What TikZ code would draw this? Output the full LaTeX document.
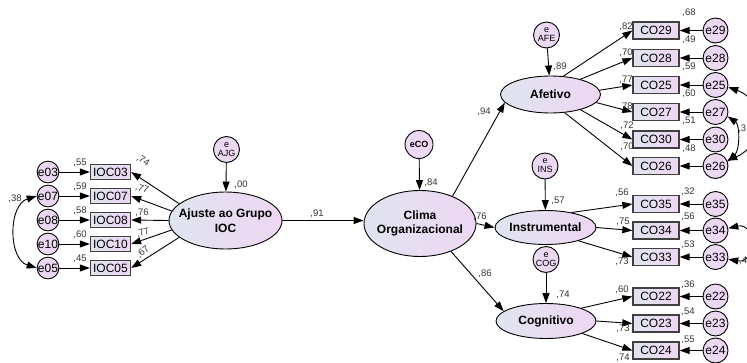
\documentclass[tikz,border=0pt]{standalone}
\usepackage{fontspec}
\setmainfont{Liberation Sans}
\usetikzlibrary{shapes.geometric, arrows.meta, positioning}

\definecolor{semleft}{RGB}{224,229,240}
\definecolor{semright}{RGB}{238,214,243}

\tikzset{
	latent/.style={ellipse, draw, line width=0.9pt, left color=semleft, right color=semright, inner sep=0pt},
	lattext/.style={align=center, font=\fontsize{12}{14}\selectfont\bfseries},
	obsv/.style={rectangle, draw=black!75, line width=1.3pt, left color=semleft, right color=semright, minimum width=46pt, minimum height=17pt, inner sep=0pt, font=\fontsize{12}{12}\selectfont},
	iocbox/.style={obsv, minimum width=40pt, minimum height=15pt},
	errc/.style={circle, draw, line width=0.9pt, left color=semleft!30!semright, right color=semright, minimum size=25pt, inner sep=0pt, font=\fontsize{12}{12}\selectfont},
	lerr/.style={errc, minimum size=21pt},
	distc/.style={errc, minimum size=26pt, align=center, font=\fontsize{9}{9}\selectfont},
	coef/.style={inner sep=0pt, text=black!80, font=\fontsize{9.5}{10}\selectfont},
	reg/.style={-{Triangle[length=10pt,width=7pt]}, line width=0.9pt},
	cov/.style={{Triangle[length=10pt,width=7pt]}-{Triangle[length=10pt,width=7pt]}, line width=0.9pt},
}

\begin{document}
\begin{tikzpicture}[x=1pt, y=-1pt]
	\useasboundingbox (0,0) rectangle (747,362);

	% latent variables
	\node[latent, minimum width=113pt, minimum height=57pt, label={[lattext, font=\fontsize{12}{15}\selectfont\bfseries]center:Ajuste ao Grupo\\IOC}] (ajg) at (225.5,220.5) {};
	\node[latent, minimum width=112pt, minimum height=66pt, label={[lattext]center:Clima\\Organizacional}] (clima) at (420,223.5) {};
	\node[latent, minimum width=100pt, minimum height=37pt, label={[lattext]center:Afetivo}] (afe) at (550.5,94.5) {};
	\node[latent, minimum width=101pt, minimum height=34pt, label={[lattext]center:Instrumental}] (ins) at (545.5,227.5) {};
	\node[latent, minimum width=100pt, minimum height=35pt, label={[lattext]center:Cognitivo}] (cog) at (546,321) {};

	% disturbances
	\node[distc] (dajg) at (226.5,149.5) {e\\AJG};
	\node[distc, minimum size=28pt, font=\fontsize{9}{9}\selectfont\bfseries] (dco) at (419,144.5) {eCO};
	\node[distc] (dafe) at (546.5,35) {e\\AFE};
	\node[distc] (dins) at (545,166) {e\\INS};
	\node[distc] (dcog) at (546,259.5) {e\\COG};

	% indicators of Ajuste ao Grupo
	\node[iocbox] (ioc03) at (110.5,172) {IOC03};
	\node[iocbox] (ioc07) at (110.5,196) {IOC07};
	\node[iocbox] (ioc08) at (110.5,220) {IOC08};
	\node[iocbox] (ioc10) at (110.5,244) {IOC10};
	\node[iocbox] (ioc05) at (110.5,268) {IOC05};
	\node[lerr] (e03) at (48,172) {e03};
	\node[lerr] (e07) at (48,196) {e07};
	\node[lerr] (e08) at (48,220) {e08};
	\node[lerr] (e10) at (48,244) {e10};
	\node[lerr] (e05) at (48,268) {e05};

	% indicators of Afetivo
	\node[obsv] (co29) at (656,30.5) {CO29};
	\node[obsv] (co28) at (656,58) {CO28};
	\node[obsv] (co25) at (656,85) {CO25};
	\node[obsv] (co27) at (656,112) {CO27};
	\node[obsv] (co30) at (656,139.5) {CO30};
	\node[obsv] (co26) at (656,166) {CO26};
	\node[errc] (e29) at (715.5,30.5) {e29};
	\node[errc] (e28) at (715.5,58) {e28};
	\node[errc] (e25) at (715.5,85) {e25};
	\node[errc] (e27) at (715.5,112) {e27};
	\node[errc] (e30) at (715.5,139.5) {e30};
	\node[errc] (e26) at (715.5,166) {e26};

	% indicators of Instrumental
	\node[obsv] (co35) at (656,204) {CO35};
	\node[obsv] (co34) at (656,230.5) {CO34};
	\node[obsv] (co33) at (656,257) {CO33};
	\node[errc] (e35) at (715.5,204) {e35};
	\node[errc] (e34) at (715.5,230.5) {e34};
	\node[errc] (e33) at (715.5,257) {e33};

	% indicators of Cognitivo
	\node[obsv] (co22) at (656,296.5) {CO22};
	\node[obsv] (co23) at (656,323.5) {CO23};
	\node[obsv] (co24) at (656,350.5) {CO24};
	\node[errc] (e22) at (715.5,296.5) {e22};
	\node[errc] (e23) at (715.5,323.5) {e23};
	\node[errc] (e24) at (715.5,350.5) {e24};

	% paths
	\draw[reg] (dajg) -- (ajg);
	\draw[reg] (dco) -- (clima);
	\draw[reg] (dafe) -- (afe);
	\draw[reg] (dins) -- (ins);
	\draw[reg] (dcog) -- (cog);
	\draw[reg] (ajg.east) -- (ajg.east -| clima.west);
	\draw[reg] (clima.east) -- (ins.west);
	\draw[reg] (clima.40) -- (afe.190);
	\draw[reg] (clima.-42) -- (cog.167);

	\draw[reg] (ajg.160) -- (ioc03.east);
	\draw[reg] (ajg.170) -- (ioc07.east);
	\draw[reg] (ajg.180) -- (ioc08.east);
	\draw[reg] (ajg.190) -- (ioc10.east);
	\draw[reg] (ajg.200) -- (ioc05.east);
	\draw[reg] (e03) -- (ioc03);
	\draw[reg] (e07) -- (ioc07);
	\draw[reg] (e08) -- (ioc08);
	\draw[reg] (e10) -- (ioc10);
	\draw[reg] (e05) -- (ioc05);
	\draw[cov] (e07.west) .. controls (8,205) and (8,259) .. (e05.west);

	\draw[reg] (afe.55) -- (co29.west);
	\draw[reg] (afe.27) -- (co28.west);
	\draw[reg] (afe.5) -- (co25.west);
	\draw[reg] (afe.-10) -- (co27.west);
	\draw[reg] (afe.-27) -- (co30.west);
	\draw[reg] (afe.-52) -- (co26.west);
	\draw[reg] (ins.30) -- (co35.west);
	\draw[reg] (ins.east) -- (co34.west);
	\draw[reg] (ins.-22) -- (co33.west);
	\draw[reg] (cog.20) -- (co22.west);
	\draw[reg] (cog.east) -- (co23.west);
	\draw[reg] (cog.-19) -- (co24.west);

	\draw[reg] (e29) -- (co29);
	\draw[reg] (e28) -- (co28);
	\draw[reg] (e25) -- (co25);
	\draw[reg] (e27) -- (co27);
	\draw[reg] (e30) -- (co30);
	\draw[reg] (e26) -- (co26);
	\draw[reg] (e35) -- (co35);
	\draw[reg] (e34) -- (co34);
	\draw[reg] (e33) -- (co33);
	\draw[reg] (e22) -- (co22);
	\draw[reg] (e23) -- (co23);
	\draw[reg] (e24) -- (co24);
	\draw[cov] (e25.-10) .. controls (765,100) and (765,145) .. (e26.25);
	\draw[cov] (e27.-20) .. controls (740,125) and (740,150) .. (e26.20);
	\draw[cov] (e34.10) .. controls (756,222) and (756,264) .. (e33.-10);

	% estimates
	\node[coef] (k00) at (241,185) {,00};
	\node[coef] (k91) at (317,214) {,91};
	\node[coef] (k84) at (431,183) {,84};
	\node[coef] (k76) at (480,217) {,76};
	\node[coef] (k94) at (484,112) {,94};
	\node[coef] (k86) at (485,274) {,86};
	\node[coef] (k89) at (560,67) {,89};
	\node[coef] (k57) at (558,201) {,57};
	\node[coef] (k74) at (563,295) {,74};

	\node[coef] (v03) at (80,163) {,55};
	\node[coef] (v07) at (80,187) {,59};
	\node[coef] (v08) at (80,211) {,58};
	\node[coef] (v10) at (80,235) {,60};
	\node[coef] (v05) at (80,259) {,45};
	\node[coef, rotate=-35] (w03) at (143,161) {,74};
	\node[coef, rotate=-20] (w07) at (142,189) {,77};
	\node[coef] (w08) at (142,213) {,76};
	\node[coef, rotate=20] (w10) at (143,233) {,77};
	\node[coef, rotate=40] (w05) at (143,252) {,67};
	\node[coef] (c38) at (15,199) {,38};

	\node[coef] (w29) at (626,27) {,82};
	\node[coef] (w28) at (626,53) {,70};
	\node[coef] (w25) at (626,80) {,77};
	\node[coef] (w27) at (626,107) {,78};
	\node[coef] (w30) at (627,126) {,72};
	\node[coef] (w26) at (627,147) {,70};
	\node[coef] (v29) at (689,13) {,68};
	\node[coef] (v28) at (689,40) {,49};
	\node[coef] (v25) at (689,67) {,59};
	\node[coef] (v27) at (689,94) {,60};
	\node[coef] (v30) at (689,121) {,51};
	\node[coef] (v26) at (689,149) {,48};

	\node[coef] (w35) at (622,193) {,56};
	\node[coef] (w34) at (623,222) {,75};
	\node[coef] (w33) at (622,262) {,73};
	\node[coef] (v35) at (688,192) {,32};
	\node[coef] (v34) at (688,217) {,56};
	\node[coef] (v33) at (688,245) {,53};

	\node[coef] (w22) at (622,290) {,60};
	\node[coef] (w23) at (623,329) {,73};
	\node[coef] (w24) at (623,358) {,74};
	\node[coef] (v22) at (688,285) {,36};
	\node[coef] (v23) at (688,312) {,54};
	\node[coef] (v24) at (688,340) {,55};

	\node[coef, anchor=west] (c33) at (738,129) {,3};
	\node[coef, anchor=west] (c34) at (739,261) {,4};
\end{tikzpicture}
\end{document}
